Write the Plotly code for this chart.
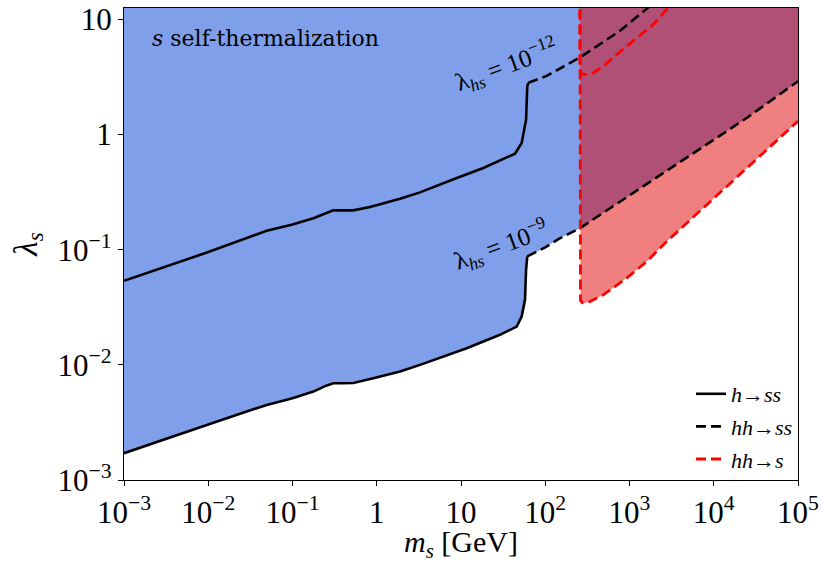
import plotly.graph_objects as go

# ---------------- data ----------------
# h -> ss boundary, lambda_hs = 1e-9 (solid)
m_hss_9 = [1e-3, 3.16e-3, 0.01, 0.0316, 0.0494, 0.1, 0.177, 0.251, 0.305, 0.398, 0.527,
           0.91, 1.89, 3.26, 11.7, 29.0, 45.8, 52.5, 57.5, 59.2, 61.2]
lam_hss_9 = [1.71e-3, 2.26e-3, 3.03e-3, 4.03e-3, 4.49e-3, 5.13e-3, 5.86e-3, 6.6e-3, 6.93e-3, 6.93e-3, 6.97e-3,
             7.66e-3, 8.75e-3, 0.0100, 0.01396, 0.01824, 0.02153, 0.0263, 0.0367, 0.067, 0.0875]

# hh -> ss boundary, lambda_hs = 1e-9 (dashed)
m_hhss_9 = [61.2, 74, 100, 150, 258, 708, 1914, 6870, 25100, 1e5]
lam_hhss_9 = [0.0875, 0.0933, 0.105, 0.126, 0.154, 0.251, 0.406, 0.741, 1.41, 2.91]

# h -> ss boundary, lambda_hs = 1e-12 (solid)
m_hss_12 = [1e-3, 0.01, 0.0494, 0.1, 0.177, 0.251, 0.305, 0.527, 0.832, 1.89, 3.26,
            8.9, 18.4, 43.8, 52.5, 59.2, 61.2, 63.0]
lam_hss_12 = [0.0537, 0.0955, 0.146, 0.166, 0.188, 0.209, 0.220, 0.220, 0.235, 0.277, 0.315,
              0.42, 0.513, 0.684, 0.847, 1.35, 2.63, 2.82]

# hh -> ss boundary, lambda_hs = 1e-12 (dashed)
m_hhss_12 = [63.0, 104, 258, 771, 1750, 3160]
lam_hhss_12 = [2.82, 3.24, 4.68, 7.98, 13.1, 18.2]

# hh -> s boundary, lambda_hs = 1e-9 (red dashed)
m_hhs_9 = [258, 258, 262, 275, 296, 340, 489, 927, 1600, 2760, 15850, 1e5]
lam_hhs_9 = [30, 0.0398, 0.0363, 0.0347, 0.0344, 0.0355, 0.0406, 0.0568, 0.079, 0.118, 0.38, 1.31]

# hh -> s boundary, lambda_hs = 1e-12 (red dashed)
m_hhs_12 = [258, 258, 266, 296, 372, 489, 705, 1216, 1914, 2760, 3980]
lam_hhs_12 = [30, 3.63, 3.40, 3.33, 3.44, 3.93, 4.97, 6.93, 9.06, 12.2, 15.8]

LAM_TOP = 30          # upper end of the shaded regions (beyond the axis)
M_MIN, M_MAX = 1e-3, 1e5

x_tickvals = [1e-3, 1e-2, 1e-1, 1, 10, 1e2, 1e3, 1e4, 1e5]
x_ticktext = ["10<sup>−3</sup>", "10<sup>−2</sup>", "10<sup>−1</sup>", "1", "10",
              "10<sup>2</sup>", "10<sup>3</sup>", "10<sup>4</sup>", "10<sup>5</sup>"]
y_tickvals = [1e-3, 1e-2, 1e-1, 1, 10]
y_ticktext = ["10<sup>−3</sup>", "10<sup>−2</sup>", "10<sup>−1</sup>", "1", "10"]

SERIF = "Liberation Serif"
BLUE = "#7F9FEB"
RED_FILL = "rgba(225,1,1,0.5)"
DASH = "10px,5px"

fig = go.Figure()

# blue region: self-thermalization
fig.add_trace(go.Scatter(
    x=m_hss_9 + m_hhss_9[1:] + [M_MAX, M_MIN],
    y=lam_hss_9 + lam_hhss_9[1:] + [LAM_TOP, LAM_TOP],
    fill="toself", fillcolor=BLUE, mode="lines", line=dict(width=0),
    showlegend=False, hoverinfo="skip"))

# red region: hh -> s
fig.add_trace(go.Scatter(
    x=m_hhs_9 + [M_MAX],
    y=lam_hhs_9 + [LAM_TOP],
    fill="toself", fillcolor=RED_FILL, mode="lines", line=dict(width=0),
    showlegend=False, hoverinfo="skip"))

# black curves
fig.add_trace(go.Scatter(x=m_hss_12, y=lam_hss_12, mode="lines",
                         line=dict(color="black", width=2.6), showlegend=False))
fig.add_trace(go.Scatter(x=m_hhss_12, y=lam_hhss_12, mode="lines",
                         line=dict(color="black", width=2.6, dash=DASH), showlegend=False))
fig.add_trace(go.Scatter(x=m_hss_9, y=lam_hss_9, mode="lines", name="<i>h</i>→<i>ss</i>",
                         legendgroup="a", line=dict(color="black", width=2.6), showlegend=True))
fig.add_trace(go.Scatter(x=m_hhss_9, y=lam_hhss_9, mode="lines", name="<i>hh</i>→<i>ss</i>",
                         legendgroup="b", line=dict(color="black", width=2.6, dash=DASH), showlegend=True))

# red curves
fig.add_trace(go.Scatter(x=m_hhs_12, y=lam_hhs_12, mode="lines",
                         line=dict(color="#FF0000", width=2.8, dash=DASH), showlegend=False))
fig.add_trace(go.Scatter(x=m_hhs_9, y=lam_hhs_9, mode="lines", name="<i>hh</i>→<i>s</i>",
                         legendgroup="c", line=dict(color="#FF0000", width=2.8, dash=DASH), showlegend=True))

axis_common = dict(
    type="log", showgrid=False, zeroline=False, automargin=False,
    showline=True, linecolor="black", linewidth=1.2, mirror=True,
    ticks="outside", ticklen=5, tickwidth=1, tickcolor="black",
    tickfont=dict(family=SERIF, size=31, color="black"),
)

fig.update_xaxes(**axis_common, range=[-3, 5], tickmode="array",
                 tickvals=x_tickvals, ticktext=x_ticktext)
fig.update_yaxes(**axis_common, range=[-3, 1.1], tickmode="array",
                 tickvals=y_tickvals, ticktext=y_ticktext,
                 title=dict(text="<i>λ<sub>s</sub></i>",
                            font=dict(family=SERIF, size=33, color="black"), standoff=10))

# x-axis title
fig.add_annotation(xref="paper", yref="paper", x=0.5, y=-0.136,
                   text="<i>m<sub>s</sub></i> [GeV]", showarrow=False,
                   xanchor="center", yanchor="middle",
                   font=dict(family=SERIF, size=30, color="black"))

fig.add_annotation(xref="paper", yref="paper", x=0.0386, y=0.936,
                   text="<i>s</i> self-thermalization", showarrow=False,
                   xanchor="left", yanchor="middle",
                   font=dict(family="DejaVu Serif", size=22, color="black"))
fig.add_annotation(x=1.54, y=0.609, text="λ<sub><i>hs</i></sub> = 10<sup>−12</sup>",
                   showarrow=False, textangle=-20,
                   font=dict(family=SERIF, size=25, color="black"))
fig.add_annotation(x=1.48, y=-0.957, text="λ<sub><i>hs</i></sub> = 10<sup>−9</sup>",
                   showarrow=False, textangle=-20,
                   font=dict(family=SERIF, size=25, color="black"))

fig.update_layout(
    width=824, height=563,
    margin=dict(l=124, r=26, t=8, b=83),
    paper_bgcolor="white", plot_bgcolor="white",
    legend=dict(x=1.0, y=0.0, xanchor="right", yanchor="bottom",
                bgcolor="rgba(0,0,0,0)", font=dict(family=SERIF, size=22, color="black"),
                tracegroupgap=1),
)

fig.write_html("out.html", config={"displayModeBar": False},
               post_script="document.body.style.margin='0';document.body.style.overflow='hidden';")
